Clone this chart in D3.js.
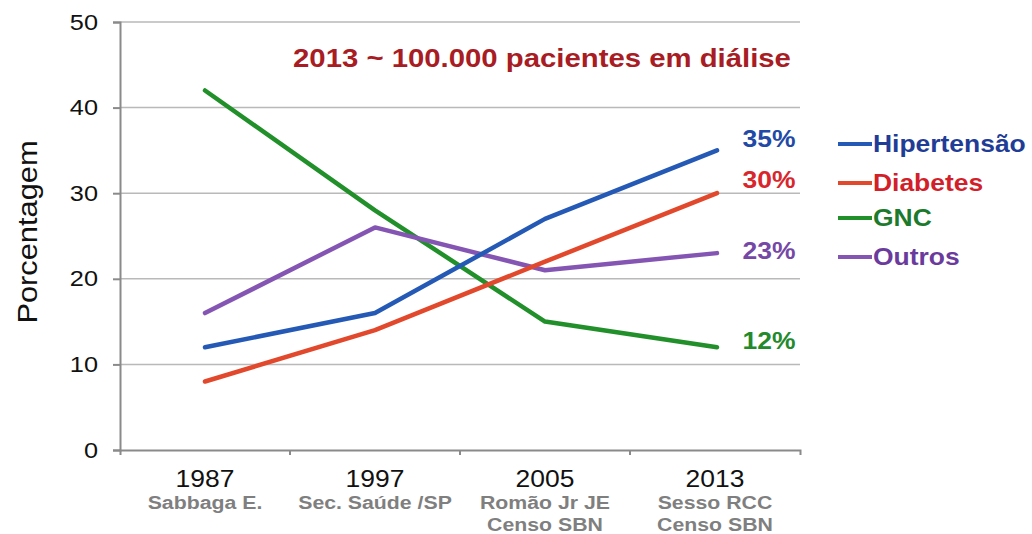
<!DOCTYPE html>
<html>
<head>
<meta charset="utf-8">
<script src="https://cdn.jsdelivr.net/npm/d3@7"></script>
<style>
  body { margin: 0; background: #fff; }
  text { font-family: "Liberation Sans", Arial, sans-serif; }
</style>
</head>
<body>
<svg id="chart"></svg>
<script>
// categories + sources under each year
const years = ["1987", "1997", "2005", "2013"];
const sources = [["Sabbaga E."], ["Sec. Saúde /SP"], ["Romão Jr JE", "Censo SBN"], ["Sesso RCC", "Censo SBN"]];

// series
const seriesNames = ["Hipertensão", "Diabetes", "GNC", "Outros"];
const hipertensao = [12, 16, 27, 35];
const diabetes = [8, 14, 22, 30];
const gnc = [42, 28, 15, 12];
const outros = [16, 26, 21, 23];

const yTicks = [0, 10, 20, 30, 40, 50];
// end labels: blue, red, purple, green (top to bottom)
const endLabels = ["35%", "30%", "23%", "12%"];
const endSeries = [0, 1, 3, 2];

const lineColors = ["#2459b5", "#e2482b", "#22902a", "#8455b3"];
const textColors = ["#2349a6", "#d8262c", "#238a2c", "#7548a6"];
const legendColors = ["#1f3d96", "#d21f2a", "#1c7a2c", "#6a3b9c"];

const W = 1032, H = 534;
const margin = {left: 120, right: 232, top: 22, bottom: 84};

const svg = d3.select("#chart").attr("width", W).attr("height", H);

const x = d3.scaleBand().domain(years).range([margin.left, W - margin.right]);
const y = d3.scaleLinear().domain([0, 50]).range([H - margin.bottom, margin.top]);

// the source image is a bit stretched sideways, so text gets a small x-stretch
const stretch = 1.15;
function wide(sel) {
  sel.attr("transform", function() {
    const tx = +d3.select(this).attr("x") || 0;
    return `translate(${tx * (1 - stretch)},0) scale(${stretch},1)`;
  });
}

// grid
svg.append("g").selectAll("line")
  .data(yTicks.filter(d => d > 0))
  .join("line")
  .attr("x1", margin.left).attr("x2", W - margin.right)
  .attr("y1", d => y(d)).attr("y2", d => y(d))
  .attr("stroke", "#b9b9b9").attr("stroke-width", 1.5);

// y axis
const yAxis = svg.append("g")
  .attr("transform", `translate(${margin.left},0)`)
  .call(d3.axisLeft(y).tickValues(yTicks).tickSize(7).tickPadding(15));
yAxis.select(".domain").attr("stroke", "#8a8a8a").attr("stroke-width", 2);
yAxis.selectAll(".tick line").attr("stroke", "#8a8a8a").attr("stroke-width", 2);
yAxis.selectAll(".tick text").attr("font-size", 22).attr("fill", "#111")
  .style("font-family", "Liberation Sans, Arial, sans-serif")
  .call(wide);

// x axis
const xAxis = svg.append("g")
  .attr("transform", `translate(0,${y(0)})`)
  .call(d3.axisBottom(x).tickValues([]).tickSizeOuter(5));
xAxis.select(".domain").attr("stroke", "#8a8a8a").attr("stroke-width", 2);
svg.append("g").selectAll("line")
  .data(years.slice(1))
  .join("line")
  .attr("x1", d => x(d)).attr("x2", d => x(d))
  .attr("y1", y(0)).attr("y2", y(0) + 5)
  .attr("stroke", "#8a8a8a").attr("stroke-width", 2);

// x labels
const xl = svg.append("g").selectAll("g")
  .data(years)
  .join("g")
  .attr("transform", d => `translate(${x(d) + x.bandwidth() / 2},0)`);
xl.append("text")
  .attr("y", 487).attr("text-anchor", "middle")
  .attr("font-size", 23).attr("fill", "#111")
  .text(d => d)
  .call(wide);
xl.each(function(d, i) {
  d3.select(this).selectAll(".src")
    .data(sources[i])
    .join("text")
    .attr("class", "src")
    .attr("y", (s, j) => 509 + j * 22)
    .attr("text-anchor", "middle")
    .attr("font-size", 18.5).attr("font-weight", "bold").attr("fill", "#7f7f7f")
    .text(s => s)
    .call(wide);
});

// y label
svg.append("text")
  .attr("transform", `translate(37,232) rotate(-90) scale(1.1,1)`)
  .attr("text-anchor", "middle")
  .attr("font-size", 28).attr("fill", "#111")
  .text("Porcentagem");

// lines
const allSeries = [hipertensao, diabetes, gnc, outros];
const line = d3.line()
  .x((d, i) => x(years[i]) + x.bandwidth() / 2 + (i === years.length - 1 ? 2 : 0))
  .y(d => y(d));

// draw in order so blue is on top like original
const drawOrder = [2, 3, 1, 0];
svg.append("g").selectAll("path")
  .data(drawOrder)
  .join("path")
  .attr("d", k => line(allSeries[k]))
  .attr("fill", "none")
  .attr("stroke", k => lineColors[k])
  .attr("stroke-width", 4.5)
  .attr("stroke-linecap", "round")
  .attr("stroke-linejoin", "round");

// end labels
const endY = [139, 180, 251, 341];
svg.append("g").selectAll("text")
  .data(endLabels)
  .join("text")
  .attr("x", 769).attr("y", (d, i) => endY[i] + 8)
  .attr("text-anchor", "middle")
  .attr("font-size", 23).attr("font-weight", "bold")
  .attr("fill", (d, i) => textColors[endSeries[i]])
  .text(d => d)
  .call(wide);

// legend
const legY = [144, 183, 218, 257];
const leg = svg.append("g").selectAll("g")
  .data(seriesNames)
  .join("g")
  .attr("transform", (d, i) => `translate(838,${legY[i]})`);
leg.append("line")
  .attr("x1", 0).attr("x2", 34)
  .attr("stroke", (d, i) => lineColors[i]).attr("stroke-width", 4);
leg.append("text")
  .attr("x", 35).attr("y", 8)
  .attr("font-size", 23).attr("font-weight", "bold")
  .attr("fill", (d, i) => legendColors[i])
  .text(d => d)
  .call(wide);

// title
svg.append("text")
  .attr("x", 542).attr("y", 67)
  .attr("text-anchor", "middle")
  .attr("font-size", 25.5).attr("font-weight", "bold")
  .attr("fill", "#a81c24")
  .text("2013 ~ 100.000 pacientes em diálise")
  .call(wide);
</script>
</body>
</html>
